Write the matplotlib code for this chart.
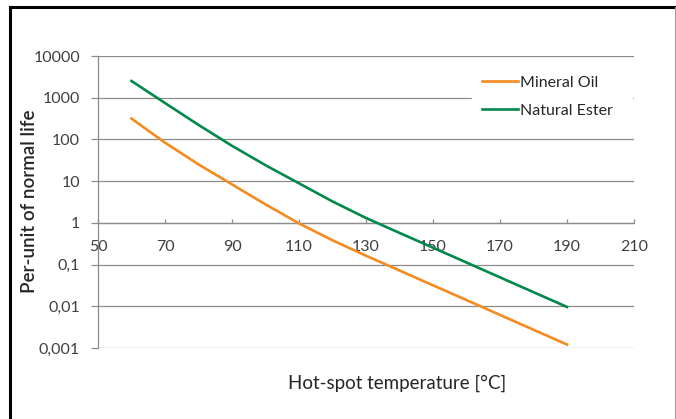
import matplotlib
matplotlib.use("Agg")
import matplotlib.pyplot as plt
from matplotlib.lines import Line2D

# Hot-spot temperature [°C] and per-unit life for both insulating fluids
temps = [60, 70, 80, 90, 100, 110, 120, 130, 140, 150, 160, 170, 180, 190]
mineral_oil = [316, 83.6, 25.2, 8.36, 2.77, 0.97, 0.382, 0.163, 0.0721, 0.0318,
               0.0141, 0.0062, 0.00274, 0.00121]
natural_ester = [2512, 746, 223, 70.3, 24.1, 8.87, 3.26, 1.31, 0.574, 0.254,
                 0.112, 0.0494, 0.0218, 0.00964]

x_ticks = [50, 70, 90, 110, 130, 150, 170, 190, 210]
y_ticks = [0.001, 0.01, 0.1, 1, 10, 100, 1000, 10000]
y_tick_labels = ["0,001", "0,01", "0,1", "1", "10", "100", "1000", "10000"]

plt.rcParams["font.family"] = ["Lato", "DejaVu Sans"]
text_color = "#404040"
grid_color = "#8c8c8c"

W, H = 676, 419
fig = plt.figure(figsize=(W / 100, H / 100), dpi=100)
ax = fig.add_axes([98 / W, 1 - 348 / H, (634 - 98) / W, (348 - 56) / H])

ax.plot(temps, mineral_oil, color="#F58A1F", lw=1.9, label="Mineral Oil", zorder=3)
ax.plot(temps, natural_ester, color="#00894A", lw=1.9, label="Natural Ester", zorder=3)

ax.set_yscale("log")
ax.set_xlim(50, 210)
ax.set_ylim(0.001, 10000)
ax.set_xticks(x_ticks)
ax.set_yticks(y_ticks)
ax.set_yticklabels(y_tick_labels)
ax.minorticks_off()

# x axis crosses the value axis at 1
ax.spines["bottom"].set_position(("data", 1))
ax.spines["top"].set_visible(False)
ax.spines["right"].set_visible(False)
for s in ("left", "bottom"):
    ax.spines[s].set_color(grid_color)
    ax.spines[s].set_linewidth(0.9)

ax.tick_params(axis="x", direction="in", length=3, width=0.9, color=grid_color,
               labelsize=11.5, labelcolor=text_color, pad=12)
ax.tick_params(axis="y", direction="out", length=5, width=0.9, color=grid_color,
               labelsize=11.5, labelcolor=text_color, pad=8)

ax.yaxis.grid(True, color=grid_color, lw=0.9)
ax.set_axisbelow(True)

# white legend box stretched to the right edge of the plot, hiding the grid behind it
leg = ax.legend(loc="upper left", mode="expand",
                bbox_to_anchor=(464 / W, 1 - 130 / H, (640 - 464) / W, 72 / H),
                bbox_transform=fig.transFigure, fontsize=11.5, frameon=True,
                facecolor="white", edgecolor="white", framealpha=1, fancybox=False,
                borderpad=0.6, handlelength=2.3, handletextpad=0.1, labelspacing=0.85)
for t in leg.get_texts():
    t.set_color("#262626")
leg.set_zorder(5)

fig.text(397 / W, 1 - 383 / H, "Hot-spot temperature [°C]", ha="center", va="center",
         fontsize=13.5, color="#262626")
fig.text(30 / W, 1 - 201 / H, "Per-unit of normal life", ha="center", va="center",
         rotation=90, fontsize=13.5, fontweight="semibold", color="#262626")

# outer frame of the chart area
fig.add_artist(Line2D([10 / W, 10 / W], [0, 1 - 7 / H], transform=fig.transFigure,
                      color="black", lw=2.2))
fig.add_artist(Line2D([10 / W, 1], [1 - 7 / H, 1 - 7 / H], transform=fig.transFigure,
                      color="black", lw=2.2))
fig.add_artist(Line2D([674.5 / W, 674.5 / W], [0, 1 - 7 / H], transform=fig.transFigure,
                      color="#a0a0a0", lw=0.8))

fig.savefig("out.png", dpi=100)
